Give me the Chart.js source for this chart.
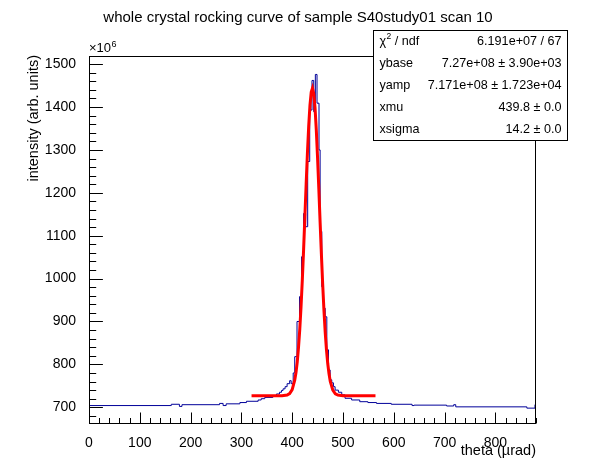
<!DOCTYPE html>
<html>
<head>
<meta charset="utf-8">
<script src="https://cdn.jsdelivr.net/npm/chart.js@4/dist/chart.umd.min.js"></script>
<style>
  html, body { margin: 0; padding: 0; background: #fff; }
  canvas { display: block; }
</style>
</head>
<body>
<canvas id="chart" width="596" height="472"></canvas>
<script>
// histogram: bin edges (theta, µrad) and contents (×10^6)
const binEdges = [0, 162, 178, 183, 257, 264, 270, 297, 310, 333, 339, 346, 362, 369, 375, 379, 382, 386, 390, 395,
  398, 402, 405, 409.5, 414.5, 418.5, 422.5, 426.5, 430.5, 434.5, 439, 442.4, 445.6, 448.9, 452.8, 455, 458.3, 461.6,
  465, 468.2, 471.5, 474.7, 477.9, 481.2, 484.5, 491, 497.6, 504, 517, 533, 549, 566, 595, 636, 640, 704, 718, 722,
  862, 878, 880]
const binCounts = [704, 707, 702, 706, 709, 704, 708, 711, 714, 717, 720, 723, 727, 731, 735, 739, 743, 748, 755,
  762, 755, 780, 818, 900, 958, 1051, 1152, 1121, 1273, 1393, 1462, 1389, 1476, 1409, 1300, 1110, 981, 931,
  911, 834, 787, 764, 757, 748, 740, 735, 729, 721, 717, 713, 711, 709, 707, 704, 705, 703, 706, 701, 698, 706]

// fitted curve
const fitTheta = [320, 380, 390, 395, 400, 405, 407.5, 410, 412.5, 415, 417.5, 420, 422.5, 425, 427.5, 430, 432.5,
  435, 437.5, 440, 442.5, 445, 447.5, 450, 452.5, 455, 457.5, 460, 462.5, 465, 467.5, 470, 472.5, 475, 480, 485,
  490, 500, 564]
const fitIntensity = [727, 727, 728.5, 732, 741, 763, 781, 806, 840, 883, 936, 998, 1068, 1144, 1220, 1292, 1355,
  1404, 1435, 1444, 1431, 1398, 1346, 1281, 1208, 1131, 1057, 988, 927, 875, 834, 802, 778, 760, 740, 731.5,
  728.4, 727, 727]

const xTicks = [0, 100, 200, 300, 400, 500, 600, 700, 800]
const yTicks = [700, 800, 900, 1000, 1100, 1200, 1300, 1400, 1500]

const titleText = "whole crystal rocking curve of sample S40study01 scan 10"
const xTitle = "theta (µrad)"
const yTitle = "intensity (arb. units)"
const statsLabels = ["χ² / ndf", "ybase", "yamp", "xmu", "xsigma"]
const statsValues = ["6.191e+07 / 67", "7.27e+08 ± 3.90e+03", "7.171e+08 ± 1.723e+04", "439.8 ± 0.0", "14.2 ± 0.0"]

const FONT = "'Liberation Sans', Arial, Helvetica, sans-serif"

const histPoints = binCounts.map((c, i) => ({ x: binEdges[i], y: c }))
histPoints.push({ x: binEdges[binEdges.length - 1], y: binCounts[binCounts.length - 1] })
const fitPoints = fitTheta.map((t, i) => ({ x: t, y: fitIntensity[i] }))

const rootFrame = {
  id: "rootFrame",
  afterDatasetsDraw(chart) {
    const { ctx, chartArea: a, scales: { x, y } } = chart
    const L = Math.round(a.left) + 0.5
    const R = Math.round(a.right) - 0.5
    const T = Math.round(a.top) + 0.5
    const B = Math.round(a.bottom) - 0.5
    ctx.save()
    ctx.strokeStyle = "#000"
    ctx.lineWidth = 1
    ctx.strokeRect(L, T, R - L, B - T)

    ctx.beginPath()
    for (let v = Math.ceil(x.min / 20) * 20; v <= x.max; v += 20) {
      const px = Math.round(x.getPixelForValue(v)) + 0.5
      const len = xTicks.includes(v) ? 11 : 5.5
      ctx.moveTo(px, B)
      ctx.lineTo(px, B - len)
    }
    for (let v = Math.ceil(y.min / 20) * 20; v <= y.max; v += 20) {
      const py = Math.round(y.getPixelForValue(v)) + 0.5
      const len = yTicks.includes(v) ? 13.4 : 6.7
      ctx.moveTo(L, py)
      ctx.lineTo(L + len, py)
    }
    ctx.stroke()

    ctx.fillStyle = "#000"
    // axis titles
    ctx.font = "14.5px " + FONT
    ctx.textAlign = "right"
    ctx.textBaseline = "middle"
    ctx.fillText(xTitle, a.right, 451)
    ctx.save()
    ctx.translate(34, a.top - 1)
    ctx.rotate(-Math.PI / 2)
    ctx.fillText(yTitle, 0, 0)
    ctx.restore()

    // exponent
    ctx.textBaseline = "alphabetic"
    ctx.textAlign = "left"
    ctx.font = "13px " + FONT
    ctx.fillText("×10", a.left, a.top - 4)
    const w = ctx.measureText("×10").width
    ctx.font = "9px " + FONT
    ctx.fillText("6", a.left + w + 0.5, a.top - 9)

    // stats box
    const bx = 373.5, by = 30.5, bw = 194, bh = 110
    ctx.fillStyle = "#fff"
    ctx.fillRect(bx, by, bw, bh)
    ctx.strokeRect(bx, by, bw, bh)
    ctx.fillStyle = "#000"
    ctx.textBaseline = "middle"
    const rowH = bh / statsLabels.length
    const sf = "12.6px " + FONT
    statsLabels.forEach((lab, i) => {
      const cy = by + rowH * (i + 0.5)
      ctx.textAlign = "left"
      ctx.font = sf
      if (lab.includes("²")) {
        const [pre, post] = lab.split("²")
        ctx.fillText(pre, bx + 6, cy)
        let ox = bx + 6 + ctx.measureText(pre).width
        ctx.font = "8.5px " + FONT
        ctx.fillText("2", ox + 0.5, cy - 5)
        ox += ctx.measureText("2").width + 0.5
        ctx.font = sf
        ctx.fillText(post, ox, cy)
      } else {
        ctx.fillText(lab, bx + 6, cy)
      }
      ctx.textAlign = "right"
      ctx.fillText(statsValues[i], bx + bw - 6, cy)
    })
    ctx.restore()
  }
}

Chart.defaults.font.family = FONT
Chart.defaults.color = "#000"

new Chart(document.getElementById("chart"), {
  type: "line",
  data: {
    datasets: [
      {
        label: "fit",
        data: fitPoints,
        borderColor: "#ff0000",
        borderWidth: 3,
        pointRadius: 0,
        tension: 0,
        order: 0
      },
      {
        label: "scan",
        data: histPoints,
        borderColor: "#000099",
        borderWidth: 1,
        pointRadius: 0,
        stepped: "before",
        order: 1
      }
    ]
  },
  options: {
    responsive: false,
    animation: false,
    events: [],
    layout: { padding: 0 },
    plugins: {
      legend: { display: false },
      tooltip: { enabled: false },
      title: {
        display: true,
        text: titleText,
        font: { size: 15, weight: "normal" },
        color: "#000",
        padding: { top: 9, bottom: 29 }
      }
    },
    scales: {
      x: {
        type: "linear",
        min: 0,
        max: 880,
        grid: { display: false },
        border: { display: false },
        afterBuildTicks: (s) => { s.ticks = xTicks.map(v => ({ value: v })) },
        afterFit: (s) => { s.height = 48 },
        ticks: { font: { size: 14 }, padding: 3, maxRotation: 0, autoSkip: false, callback: (v) => String(v) }
      },
      y: {
        type: "linear",
        min: 661,
        max: 1519,
        grid: { display: false },
        border: { display: false },
        afterBuildTicks: (s) => { s.ticks = yTicks.map(v => ({ value: v })) },
        afterFit: (s) => { s.width = 89 },
        ticks: { font: { size: 14 }, padding: 5, autoSkip: false, callback: (v) => String(v) }
      },
      margin: {
        type: "linear",
        position: "right",
        grid: { display: false },
        border: { display: false },
        ticks: { display: false },
        afterFit: (s) => { s.width = 60 }
      }
    }
  },
  plugins: [rootFrame]
})
</script>
</body>
</html>
